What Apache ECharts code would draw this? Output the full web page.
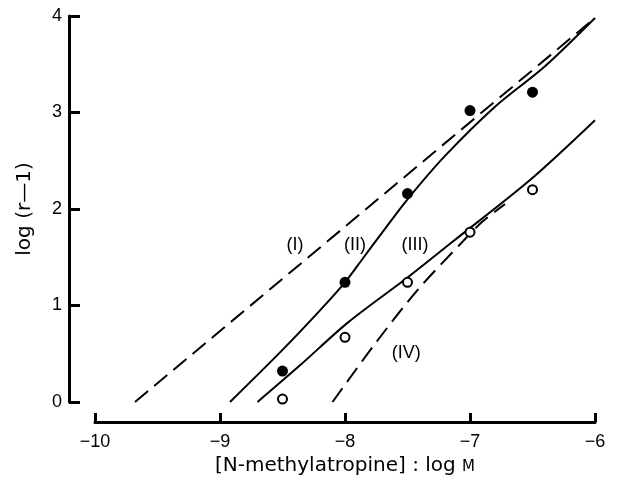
<!DOCTYPE html>
<html>
<head>
<meta charset="utf-8">
<script src="https://cdn.jsdelivr.net/npm/echarts@6/dist/echarts.min.js"></script>
<style>
  html, body { margin: 0; padding: 0; background: #fff; }
  #chart { width: 618px; height: 483px; }
</style>
</head>
<body>
<div id="chart"></div>
<script>
// log concentration of N-methylatropine
var doses = [-8.5, -8, -7.5, -7, -6.5];
// filled circles (curve II)
var filledVals = [0.32, 1.24, 2.16, 3.02, 3.21];
// open circles (curve III)
var openVals = [0.03, 0.67, 1.24, 1.76, 2.2];

// fitted curves
var lineI = [[-9.68, 0], [-6, 3.98]];
var lineII = [[-8.92, 0], [-8.5, 0.54], [-8.2, 0.95], [-8, 1.24], [-7.85, 1.5], [-7.7, 1.76],
              [-7.5, 2.1], [-7.2, 2.55], [-6.8, 3.06], [-6.4, 3.48], [-6, 3.98]];
var lineIII = [[-8.7, 0], [-8.36, 0.38], [-7.98, 0.82], [-7.5, 1.29], [-7.14, 1.66],
               [-6.52, 2.3], [-6, 2.92]];
var lineIV = [[-8.1, 0], [-7.75, 0.62], [-7.42, 1.16], [-7.06, 1.66], [-6.9, 1.87], [-6.72, 2.05]];

var xTicks = [-10, -9, -8, -7, -6];
var yTicks = [0, 1, 2, 3, 4];

var curveLabels = [
    { text: '(I)', x: -8.4, y: 1.63 },
    { text: '(II)', x: -7.92, y: 1.63 },
    { text: '(III)', x: -7.44, y: 1.63 },
    { text: '(IV)', x: -7.51, y: 0.51 }
];

var font = '"Liberation Sans", Arial, sans-serif';
var nameFont = '"DejaVu Sans", sans-serif';

function pairs(xs, ys) {
    return xs.map(function (x, i) { return [x, ys[i]]; });
}

var myChart = echarts.init(document.getElementById('chart'));

var option = {
    backgroundColor: '#fff',
    animation: false,
    grid: { left: 95, right: 23, top: 16, bottom: 81, containLabel: false, outerBoundsMode: 'none' },
    xAxis: {
        type: 'value',
        min: xTicks[0],
        max: xTicks[xTicks.length - 1],
        interval: 1,
        offset: 20,
        splitLine: { show: false },
        axisLine: { show: true, onZero: false, lineStyle: { color: '#000', width: 3 } },
        axisTick: { show: true, inside: true, length: 9, lineStyle: { color: '#000', width: 3 } },
        axisLabel: {
            margin: 11,
            color: '#000',
            fontSize: 18,
            fontFamily: font,
            formatter: function (v) { return v < 0 ? '\u2212' + Math.abs(v) : String(v); }
        },
        name: '{a|[N-methylatropine] : log }{b|M}',
        nameLocation: 'middle',
        nameGap: 32,
        nameTextStyle: {
            rich: {
                a: { fontSize: 20, color: '#000', fontFamily: nameFont },
                b: { fontSize: 15, color: '#000', fontFamily: nameFont, padding: [3, 0, 0, 0] }
            }
        }
    },
    yAxis: {
        type: 'value',
        min: yTicks[0],
        max: yTicks[yTicks.length - 1],
        interval: 1,
        offset: 26,
        splitLine: { show: false },
        axisLine: { show: true, onZero: false, lineStyle: { color: '#000', width: 3 } },
        axisTick: { show: true, inside: true, length: 11, lineStyle: { color: '#000', width: 3 } },
        axisLabel: { margin: 7, color: '#000', fontSize: 18, fontFamily: font },
        name: 'log (r\u20141)',
        nameLocation: 'middle',
        nameGap: 34,
        nameTextStyle: { fontSize: 20, color: '#000', fontFamily: nameFont }
    },
    series: [
        {
            name: 'I', type: 'line', data: lineI, showSymbol: false,
            lineStyle: { color: '#000', width: 2, type: [17, 8] }, z: 2
        },
        {
            name: 'II', type: 'line', data: lineII, showSymbol: false, smooth: 0.3,
            lineStyle: { color: '#000', width: 2 }, z: 2
        },
        {
            name: 'III', type: 'line', data: lineIII, showSymbol: false, smooth: 0.3,
            lineStyle: { color: '#000', width: 2 }, z: 2
        },
        {
            name: 'IV', type: 'line', data: lineIV, showSymbol: false, smooth: 0.3,
            lineStyle: { color: '#000', width: 2, type: [17, 8] }, z: 2
        },
        {
            name: 'filled', type: 'scatter', data: pairs(doses, filledVals),
            symbol: 'circle', symbolSize: 11,
            itemStyle: { color: '#000', opacity: 1 }, z: 5
        },
        {
            name: 'open', type: 'scatter', data: pairs(doses, openVals),
            symbol: 'circle', symbolSize: 9,
            itemStyle: { color: '#fff', borderColor: '#000', borderWidth: 2, opacity: 1 }, z: 5
        },
        {
            name: 'labels', type: 'scatter', symbolSize: 0, silent: true,
            itemStyle: { color: '#000', opacity: 1 },
            data: curveLabels.map(function (l) { return { value: [l.x, l.y], name: l.text }; }),
            label: {
                show: true, position: 'inside', formatter: '{b}', opacity: 1,
                color: '#000', textBorderWidth: 0, fontSize: 18, fontFamily: font
            }, z: 6
        }
    ]
};

myChart.setOption(option);
</script>
</body>
</html>
